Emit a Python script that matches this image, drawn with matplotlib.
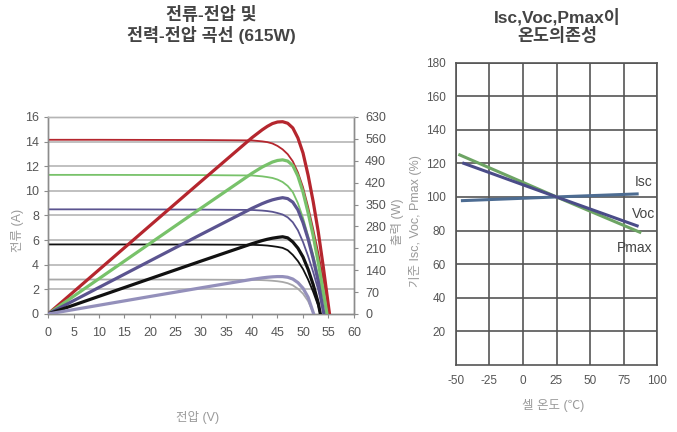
import matplotlib
matplotlib.use("Agg")
import matplotlib.pyplot as plt

plt.rcParams['font.family'] = ['Liberation Sans', 'Noto Sans CJK KR', 'DejaVu Sans']
plt.rcParams['axes.unicode_minus'] = False

# --- I-V and P-V curves (615 W module) ---
v_red = [0, 10, 20, 30, 40, 42, 43, 44, 45, 46, 47, 48, 49, 50, 51, 52, 53, 54, 55.2]
i_red = [14.15, 14.15, 14.14, 14.13, 14.1, 14.02, 13.96, 13.85, 13.65, 13.37, 12.98, 12.4, 11.5, 10.3, 8.7, 6.9, 4.95, 2.75, 0]
p_red = [0, 141.5, 282.8, 423.9, 564, 589, 600, 609, 614, 615, 610, 595, 563, 515, 444, 359, 262, 148, 0]

v_green = [0, 10, 20, 30, 40, 42, 43, 44, 45, 46, 47, 48, 49, 50, 51, 52, 53, 54, 54.7]
i_green = [11.3, 11.3, 11.29, 11.28, 11.25, 11.18, 11.12, 11.05, 10.92, 10.72, 10.4, 9.9, 9.0, 7.8, 6.35, 4.8, 3.1, 1.3, 0]
p_green = [0, 113, 225.8, 338.4, 450, 470, 478, 486, 491, 493, 489, 475, 441, 390, 324, 250, 164, 70, 0]

v_purple = [0, 10, 20, 30, 40, 42, 43, 44, 45, 46, 47, 48, 49, 50, 51, 52, 53, 54.1]
i_purple = [8.5, 8.5, 8.49, 8.48, 8.45, 8.4, 8.36, 8.3, 8.2, 8.08, 7.85, 7.45, 6.8, 5.85, 4.7, 3.4, 1.95, 0]
p_purple = [0, 85, 169.8, 254.4, 338, 353, 359.5, 365, 369, 372, 369, 357.6, 333, 292.5, 240, 177, 103, 0]

v_black = [0, 10, 20, 30, 40, 42, 43, 44, 45, 46, 47, 48, 49, 50, 51, 52, 53, 53.4]
i_black = [5.65, 5.65, 5.645, 5.64, 5.62, 5.59, 5.56, 5.51, 5.45, 5.37, 5.18, 4.8, 4.3, 3.65, 2.8, 1.8, 0.65, 0]
p_black = [0, 56.5, 112.9, 169.2, 224.8, 234.8, 239, 242.4, 245, 247, 243.5, 230.4, 210.7, 182.5, 142.8, 93.6, 34.5, 0]

v_light = [0, 10, 20, 30, 40, 42, 43, 44, 45, 46, 47, 48, 49, 50, 51, 52.1]
i_light = [2.8, 2.8, 2.8, 2.79, 2.77, 2.75, 2.73, 2.7, 2.66, 2.6, 2.5, 2.33, 2.05, 1.65, 1.05, 0]
p_light = [0, 28, 56, 83.7, 110.8, 115.5, 117.4, 118.8, 119.7, 119.6, 117.5, 111.8, 100.5, 82.5, 53.6, 0]

# --- temperature dependence ---
t_isc = [-45, 25, 85]
isc_pct = [97.8, 100, 101.8]
t_voc = [-44, 25, 85]
voc_pct = [120, 100, 82.8]
t_pmax = [-47, 25, 87]
pmax_pct = [125, 100, 79]

W, H = 677, 432
fig = plt.figure(figsize=(W / 100, H / 100), dpi=100)

tick_col = '#555555'
light_col = '#9a9a9a'

# left chart
ax = fig.add_axes([48 / W, 1 - 314 / H, 306 / W, 197 / H])
ax2 = ax.twinx()

series = [
    (v_red, i_red, p_red, '#b5262e', '#b5262e'),
    (v_green, i_green, p_green, '#78c26a', '#78c26a'),
    (v_purple, i_purple, p_purple, '#5b5490', '#5b5490'),
    (v_black, i_black, p_black, '#111111', '#111111'),
    (v_light, i_light, p_light, '#a8a8a8', '#9490bb'),
]
for v, i, p, c_iv, c_p in series:
    ax.plot(v, i, color=c_iv, lw=1.3, zorder=3)
    ax2.plot(v, p, color=c_p, lw=2.3, zorder=3)

ax.set_xlim(0, 60)
ax.set_ylim(0, 16)
ax.set_xticks(range(0, 61, 5))
ax.set_yticks(range(0, 17, 2))
ax2.set_ylim(0, 630)
ax2.set_yticks(range(0, 631, 70))
for y in range(2, 16, 2):
    ax.axhline(y, color='#b5b5b5', lw=1.2, zorder=1)

for a in (ax, ax2):
    for s in a.spines.values():
        s.set_color('#8c8c8c')
        s.set_linewidth(1.0)
    a.spines['top'].set_color('#b5b5b5')
    a.tick_params(colors='#8c8c8c', labelcolor=tick_col, labelsize=9, length=3, width=0.8)
ax.tick_params(axis='x', pad=6)
ax2.tick_params(axis='y', pad=5)

fig.text(18 / W, 1 - 230 / H, '전류 (A)', rotation=90, ha='center', va='center',
         fontsize=9, color=light_col)
fig.text(398 / W, 1 - 222 / H, '출력 (W)', rotation=90, ha='center', va='center',
         fontsize=9, color=light_col)
fig.text(198 / W, 1 - 417 / H, '전압 (V)', ha='center', va='center',
         fontsize=9, color=light_col)
fig.text(211 / W, 1 - 25 / H, '전류-전압 및\n전력-전압 곡선 (615W)', ha='center', va='center',
         fontsize=12.5, fontweight='bold', color='#444444', linespacing=1.15)

# right chart
bx = fig.add_axes([455.7 / W, 1 - 365 / H, 201.6 / W, 302.5 / H])
bx.plot(t_isc, isc_pct, color='#4d6c92', lw=2.2, zorder=3)
bx.plot(t_pmax, pmax_pct, color='#6da464', lw=2.2, zorder=3)
bx.plot(t_voc, voc_pct, color='#4a4c88', lw=2.2, zorder=4)
bx.set_xlim(-50, 100)
bx.set_ylim(0, 180)
bx.set_xticks([-50, -25, 0, 25, 50, 75, 100])
bx.set_yticks(range(20, 181, 20))
bx.grid(True, color='#555555', lw=1.2)
bx.set_axisbelow(True)
for s in bx.spines.values():
    s.set_color('#555555')
    s.set_linewidth(1.2)
bx.tick_params(length=0, labelsize=8.5, labelcolor=tick_col, pad=7)

bx.text(89.5, 109, 'Isc', ha='center', va='center', fontsize=10, color='#444444')
bx.text(90, 89.7, 'Voc', ha='center', va='center', fontsize=10, color='#444444')
bx.text(83.5, 69.5, 'Pmax', ha='center', va='center', fontsize=10, color='#444444')

fig.text(416 / W, 1 - 221 / H, '기준 Isc, Voc, Pmax (%)', rotation=90, ha='center', va='center',
         fontsize=9, color=light_col)
fig.text(553 / W, 1 - 406 / H, '셀 온도 (℃)', ha='center', va='center',
         fontsize=9, color=light_col)
fig.text(557 / W, 1 - 26 / H, 'Isc,Voc,Pmax이\n온도의존성', ha='center', va='center',
         fontsize=12.5, fontweight='bold', color='#444444', linespacing=1.15)

fig.savefig('out.png', dpi=100)
